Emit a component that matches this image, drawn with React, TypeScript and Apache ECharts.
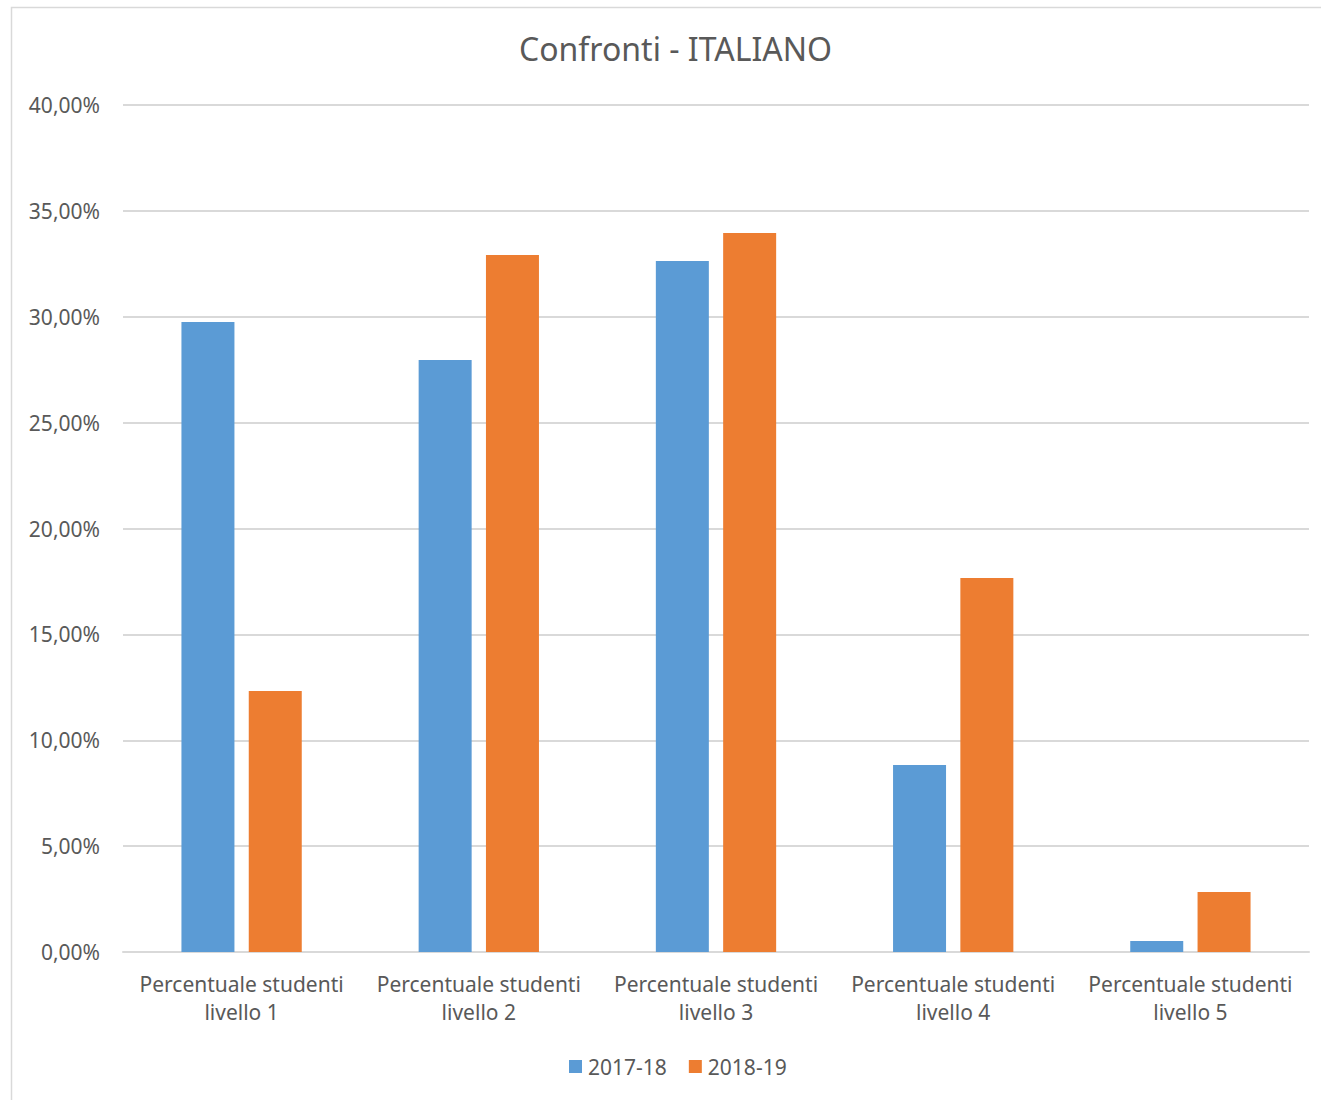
import React, { useEffect, useRef } from "react";
import * as echarts from "echarts";

const categories = [
  "Percentuale studenti\nlivello 1",
  "Percentuale studenti\nlivello 2",
  "Percentuale studenti\nlivello 3",
  "Percentuale studenti\nlivello 4",
  "Percentuale studenti\nlivello 5",
];
const series2017 = [29.75, 27.96, 32.63, 8.83, 0.52];
const series2018 = [12.33, 32.92, 33.95, 17.66, 2.83];
const seriesNames = ["2017-18", "2018-19"];
const titleText = "Confronti - ITALIANO";

const FONT = "'Noto Sans', 'Open Sans', sans-serif";
const TEXT = "#595959";

export default function App() {
  const ref = useRef<HTMLDivElement>(null);
  useEffect(() => {
    if (!ref.current) return;
    const chart = echarts.init(ref.current, null, { renderer: "svg" });
    chart.setOption({
      animation: false,
      backgroundColor: "#ffffff",
      textStyle: { fontFamily: FONT },
      graphic: [
        {
          type: "rect",
          shape: { x: 11.5, y: 7.5, width: 1400, height: 1200 },
          style: { fill: "none", stroke: "#d9d9d9", lineWidth: 1.5 },
          silent: true,
          z: -10,
        },
      ],
      title: {
        text: titleText,
        left: 519,
        top: 32,
        textStyle: { fontFamily: FONT, fontSize: 32, fontWeight: "normal", color: TEXT },
        padding: 0,
      },
      legend: {
        data: seriesNames,
        bottom: 23,
        left: 569,
        padding: 0,
        itemWidth: 13,
        itemHeight: 13,
        itemGap: 22,
        icon: "rect",
        textStyle: { fontFamily: FONT, fontSize: 21, color: TEXT, padding: [0, 0, 0, 1] },
      },
      grid: { left: 123, right: 12, top: 105, bottom: 148, containLabel: false },
      xAxis: {
        type: "category",
        data: categories,
        axisLine: { lineStyle: { color: "#d9d9d9", width: 2 } },
        axisTick: { show: false },
        axisLabel: {
          color: TEXT,
          fontFamily: FONT,
          fontSize: 21,
          lineHeight: 28,
          margin: 18,
          interval: 0,
        },
      },
      yAxis: {
        type: "value",
        min: 0,
        max: 40,
        interval: 5,
        axisLine: { show: false },
        axisTick: { show: false },
        splitLine: { lineStyle: { color: "#d9d9d9", width: 2 } },
        axisLabel: {
          color: TEXT,
          fontFamily: FONT,
          fontSize: 21,
          margin: 23,
          formatter: (v: number) => v.toFixed(2).replace(".", ",") + "%",
        },
      },
      series: [
        {
          name: seriesNames[0],
          type: "bar",
          data: series2017,
          barWidth: 53,
          barGap: "27%",
          itemStyle: { color: "#5b9bd5" },
        },
        {
          name: seriesNames[1],
          type: "bar",
          data: series2018,
          barWidth: 53,
          barGap: "27%",
          itemStyle: { color: "#ed7d31" },
        },
      ],
    });
    return () => chart.dispose();
  }, []);
  return (
    <div
      ref={ref}
      style={{ position: "absolute", left: 0, top: 0, width: 1321, height: 1100 }}
    />
  );
}
